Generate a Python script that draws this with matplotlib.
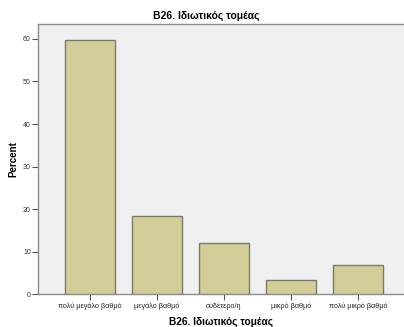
import matplotlib
matplotlib.use("Agg")
import matplotlib.pyplot as plt

categories = ["πολύ μεγάλο βαθμό", "μεγάλο βαθμό", "ουδέτερο/η", "μικρό βαθμό", "πολύ μικρό βαθμό"]
percent = [59.7, 18.3, 12.0, 3.4, 6.8]
yticks = [0, 10, 20, 30, 40, 50, 60]
title = "B26. Ιδιωτικός τομέας"

plt.rcParams['font.family'] = ['Liberation Sans', 'DejaVu Sans']

fig = plt.figure(figsize=(4.04, 3.27), dpi=100)
fig.patch.set_facecolor('white')
ax = fig.add_axes([0.0933, 0.1, 0.9067, 0.8266])
ax.set_facecolor('#F0F0F0')

x = list(range(len(categories)))
ax.bar(x, percent, width=0.746, color='#D3CE97', edgecolor='#7A7A6A', linewidth=1.0, zorder=3)

ax.set_xlim(-0.78, 4.69)
ax.set_ylim(0, 63.5)
ax.set_yticks(yticks)
ax.set_yticklabels([str(v) for v in yticks], fontsize=5, color='#333333')
ax.set_xticks(x)
ax.set_xticklabels(categories, fontsize=5.2, color='#222222')

ax.tick_params(axis='y', direction='out', length=4, width=0.8, color='#555555', pad=1)
ax.tick_params(axis='x', direction='out', length=4, width=0.8, color='#555555', pad=2)

for s in ['left', 'bottom', 'top']:
    ax.spines[s].set_color('#8C8C8C')
    ax.spines[s].set_linewidth(1.0)
ax.spines['right'].set_visible(False)

fig.text(206 / 404, 1 - 16 / 327, title, fontsize=7.5, fontweight='bold', ha='center', va='center')
ax.set_xlabel(title, fontsize=7.3, fontweight='bold', labelpad=5)
ax.set_ylabel("Percent", fontsize=7, fontweight='bold', labelpad=3)

fig.savefig("out.png", dpi=100)
